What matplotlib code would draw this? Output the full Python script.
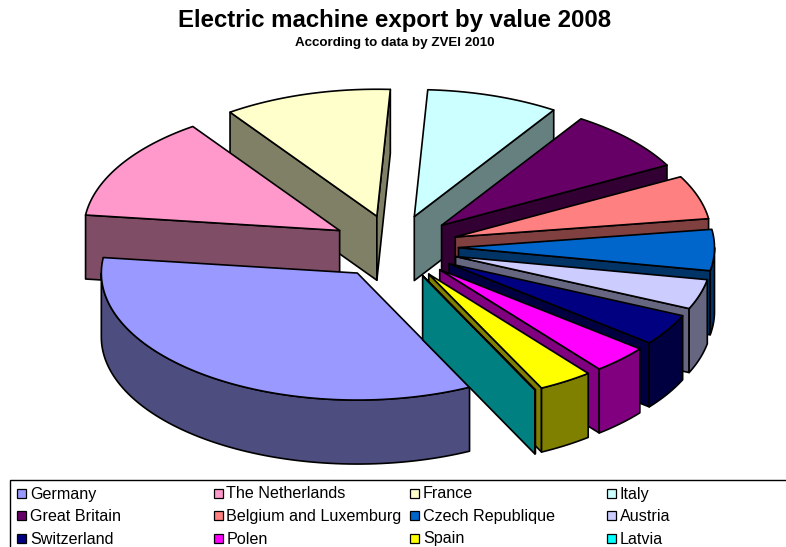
import matplotlib
matplotlib.use('Agg')
import matplotlib.pyplot as plt
from matplotlib.colors import to_rgb
from matplotlib.patches import Polygon, Rectangle
import numpy as np

plt.rcParams['font.family'] = ['Liberation Sans', 'DejaVu Sans']

countries = ['Germany', 'The Netherlands', 'France', 'Italy',
             'Great Britain', 'Belgium and Luxemburg', 'Czech Republique', 'Austria',
             'Switzerland', 'Polen', 'Spain', 'Latvia']
shares = [34.17, 13.33, 10.56, 8.33, 7.97, 5.56, 5.22, 3.80, 4.00, 3.58, 3.44, 0.04]
colors = ['#9999FF', '#FF99CC', '#FFFFCC', '#CCFFFF',
          '#660066', '#FF8080', '#0066CC', '#CCCCFF',
          '#000080', '#FF00FF', '#FFFF00', '#00FFFF']

# pie geometry in image pixels
cx, cy = 394.5, 247
rx, ry = 256, 127
ex, ey = 64, 32
depth = 64
start = -64.0  # slices run clockwise from here
line = dict(edgecolor='black', linewidth=1.2, joinstyle='round')

fig = plt.figure(figsize=(7.86, 5.47), dpi=100)
ax = fig.add_axes([0, 0, 1, 1])
ax.set_xlim(0, 786)
ax.set_ylim(547, 0)
ax.axis('off')


def rim(ox, oy, t1, t2, drop=0):
    t = np.radians(np.linspace(t1, t2, 80))
    return np.column_stack([ox + rx * np.cos(t), oy - ry * np.sin(t) + drop])


sweeps = np.array(shares) / sum(shares) * 360
hi = start - np.concatenate([[0], np.cumsum(sweeps)[:-1]])
lo = hi - sweeps
mid = (hi + lo) / 2

# back slices first, front slices over them
for i in np.argsort(-np.sin(np.radians(mid))):
    ox = cx + ex * np.cos(np.radians(mid[i]))
    oy = cy - ey * np.sin(np.radians(mid[i]))
    dark = tuple(c * 0.5 for c in to_rgb(colors[i]))

    # cut faces, only the ones turned to the viewer
    if np.cos(np.radians(hi[i])) < 0:
        e = rim(ox, oy, hi[i], hi[i])[0]
        ax.add_patch(Polygon([(ox, oy), e, (e[0], e[1] + depth), (ox, oy + depth)], facecolor=dark, **line))
    if np.cos(np.radians(lo[i])) > 0:
        e = rim(ox, oy, lo[i], lo[i])[0]
        ax.add_patch(Polygon([(ox, oy), e, (e[0], e[1] + depth), (ox, oy + depth)], facecolor=dark, **line))

    # outer wall for the lower half of the ellipse
    for k in [-1, 0]:
        t1 = max(lo[i], -180 + 360 * k)
        t2 = min(hi[i], 360 * k)
        if t2 > t1:
            top = rim(ox, oy, t1, t2)
            bottom = rim(ox, oy, t1, t2, depth)[::-1]
            ax.add_patch(Polygon(np.vstack([top, bottom]), facecolor=dark, **line))

    ax.add_patch(Polygon(np.vstack([[(ox, oy)], rim(ox, oy, lo[i], hi[i])]), facecolor=colors[i], **line))

ax.text(394.5, 21, 'Electric machine export by value 2008', ha='center', va='center',
        fontsize=17.3, fontweight='bold')
ax.text(395, 43, 'According to data by ZVEI 2010', ha='center', va='center',
        fontsize=9.6, fontweight='bold')

# legend box runs off the right and bottom of the picture
ax.add_patch(Rectangle((10, 480), 800, 90, facecolor='white', edgecolor='black', linewidth=1))
for i, name in enumerate(countries):
    x = 17 + 196.5 * (i % 4)
    y = 493 + 22.5 * (i // 4)
    ax.add_patch(Rectangle((x, y - 4.5), 9, 9, facecolor=colors[i], edgecolor='black', linewidth=0.9))
    ax.text(x + 13, y + 5.5, name, ha='left', va='baseline', fontsize=11.6)

fig.savefig('out.png', dpi=100)
